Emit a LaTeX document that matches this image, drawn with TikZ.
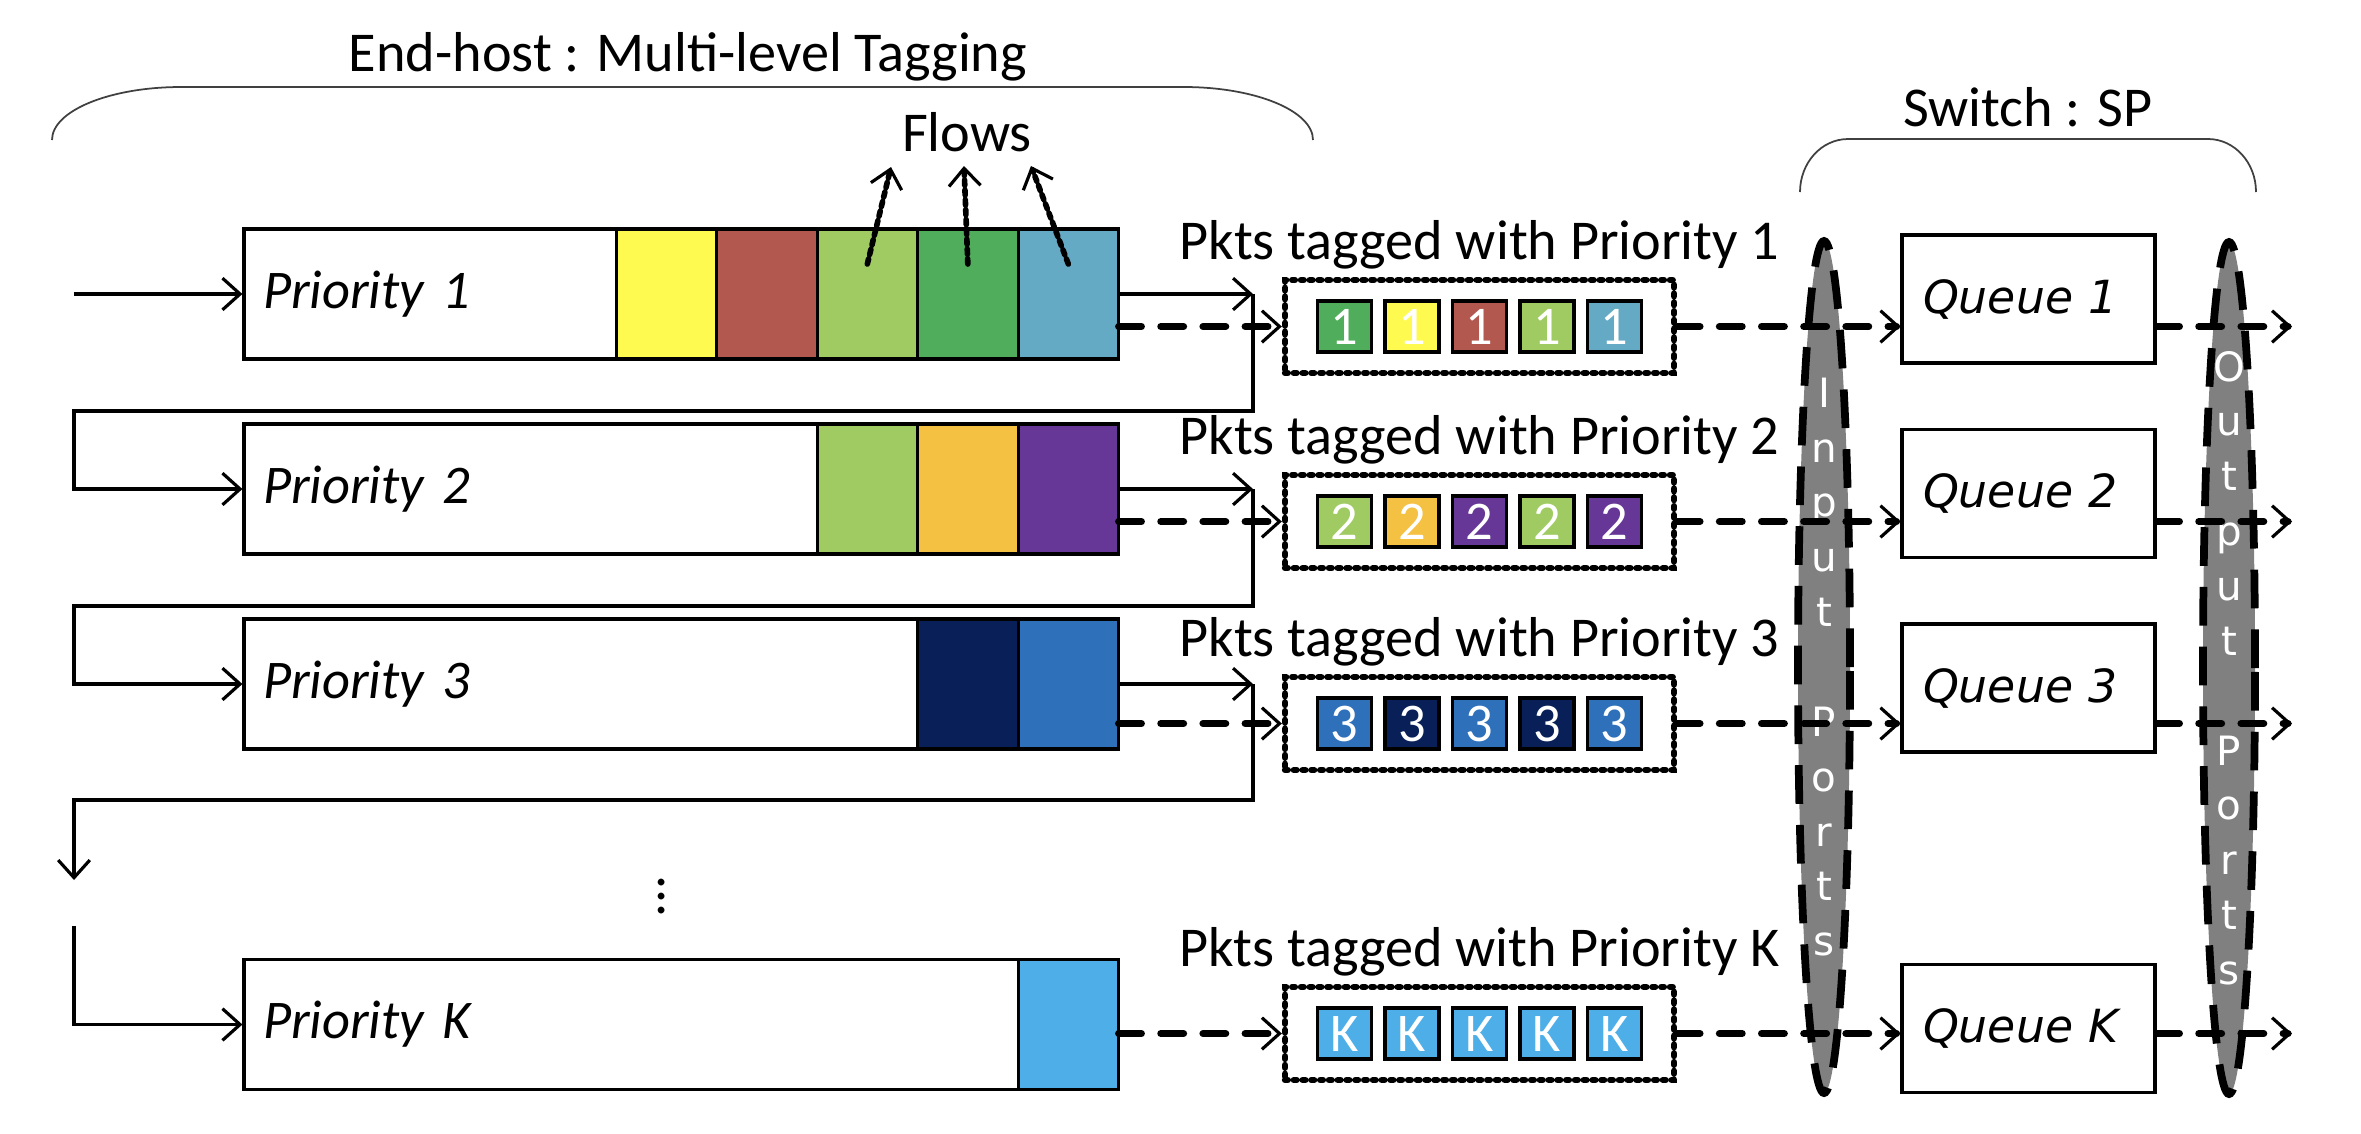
\documentclass[tikz,border=0pt]{standalone}
\usepackage{fontspec}
\setmainfont{Carlito}
\newfontfamily\vfont{DejaVu Sans}
\usepackage{tikz}
\usetikzlibrary{arrows.meta, positioning, shapes.geometric}
\definecolor{flowyellow}{RGB}{255, 250, 80}
\definecolor{flowred}{RGB}{178, 88, 78}
\definecolor{flowlime}{RGB}{160, 203, 98}
\definecolor{flowgreen}{RGB}{80, 173, 91}
\definecolor{flowteal}{RGB}{100, 170, 196}
\definecolor{floworange}{RGB}{245, 193, 66}
\definecolor{flowpurple}{RGB}{102, 55, 150}
\definecolor{flownavy}{RGB}{8, 31, 88}
\definecolor{flowblue}{RGB}{46, 112, 185}
\definecolor{flowsky}{RGB}{78, 174, 232}
\definecolor{portgray}{RGB}{128, 128, 128}

\begin{document}
\begin{tikzpicture}[
    font=\fontsize{16}{19}\selectfont,
    >={Straight Barb[length=5pt, width=9pt, line width=0.9pt]},
    prio/.style={draw, line width=0.9pt, minimum width=8.73cm, minimum height=1.3cm, text width=8.35cm, inner sep=0.19cm, align=left, font=\fontsize{15.5}{18}\selectfont\itshape},
    cell/.style={draw, line width=0.9pt, minimum width=1.005cm, minimum height=1.3cm, inner sep=0, outer sep=0},
    pkt/.style={draw, line width=0.9pt, minimum width=0.54cm, minimum height=0.51cm, inner sep=0, outer sep=0, text=white, font=\fontsize{15.5}{18}\selectfont},
    bag/.style={draw, line width=1.8pt, dash pattern=on 0.8pt off 1.7pt, line cap=round, minimum width=3.89cm, minimum height=0.93cm},
    queue/.style={draw, line width=0.9pt, minimum width=2.53cm, minimum height=1.28cm, text width=2.11cm, inner sep=0.21cm, align=left, font=\vfont\itshape\fontsize{13}{16}\selectfont},
    port/.style={ellipse, draw, fill=portgray, line width=2.2pt, dash pattern=on 11pt off 6pt, minimum width=0.52cm, minimum height=8.52cm, inner sep=0},
    portlbl/.style={text=white, align=center, font=\vfont\fontsize{11.5}{15.6}\selectfont},
    flow/.style={->, line width=0.9pt},
    tag/.style={->, line width=2pt, line cap=round, dash pattern=on 6.5pt off 5.5pt},
    flowptr/.style={->, line width=1.6pt, line cap=round, dash pattern=on 1.5pt off 1.3pt},
    brace/.style={line width=0.5pt, black!75}
]
    \useasboundingbox (0,0) rectangle (23.61,-11.33);

    % titles
    \node[anchor=base] (host) at (6.88,-0.71) {End-host : Multi-level Tagging};
    \node[anchor=base] (switch) at (20.28,-1.26) {Switch : SP};
    \node[anchor=base] (flows) at (9.67,-1.51) {Flows};
    \draw[brace] (0.52,-1.40) arc[start angle=180, end angle=90, x radius=1.29cm, y radius=0.53cm]
        -- (11.84,-0.87) arc[start angle=90, end angle=0, x radius=1.29cm, y radius=0.53cm];
    \draw[brace] (18.00,-1.92) arc[start angle=180, end angle=90, x radius=0.48cm, y radius=0.53cm]
        -- (22.08,-1.39) arc[start angle=90, end angle=0, x radius=0.48cm, y radius=0.53cm];

    % Priority 1
    \node[prio] (p1) at (6.805,-2.94) {Priority 1};
    \node[cell, fill=flowteal, anchor=east] (c15) at (p1.east) {};
    \node[cell, fill=flowgreen, left=0pt of c15] (c14) {};
    \node[cell, fill=flowlime, left=0pt of c14] (c13) {};
    \node[cell, fill=flowred, left=0pt of c13] (c12) {};
    \node[cell, fill=flowyellow, left=0pt of c12] (c11) {};

    % Priority 2
    \node[prio] (p2) at (6.805,-4.89) {Priority 2};
    \node[cell, fill=flowpurple, anchor=east] (c23) at (p2.east) {};
    \node[cell, fill=floworange, left=0pt of c23] (c22) {};
    \node[cell, fill=flowlime, left=0pt of c22] (c21) {};

    % Priority 3
    \node[prio] (p3) at (6.805,-6.84) {Priority 3};
    \node[cell, fill=flowblue, anchor=east] (c32) at (p3.east) {};
    \node[cell, fill=flownavy, left=0pt of c32] (c31) {};

    % Priority K
    \node (dots) at (6.62,-8.86) {$\vdots$};
    \node[prio] (pk) at (6.805,-10.245) {Priority K};
    \node[cell, fill=flowsky, anchor=east] (ck1) at (pk.east) {};

    % flows
    \coordinate (f1) at (8.91,-1.67);
    \coordinate (f2) at (9.64,-1.66);
    \coordinate (f3) at (10.31,-1.66);
    \draw[flowptr] ([yshift=0.3cm]c13.center) -- (f1);
    \draw[flowptr] ([yshift=0.3cm]c14.center) -- (f2);
    \draw[flowptr] ([yshift=0.3cm]c15.center) -- (f3);

    % solid path through the levels
    \coordinate (start) at (0.74,-2.94);
    \coordinate (t1) at (12.53,-2.94);
    \coordinate (t2) at (12.53,-4.89);
    \coordinate (t3) at (12.53,-6.84);
    \coordinate (u1) at (0.74,-4.11);
    \coordinate (u2) at (0.74,-6.06);
    \coordinate (u3) at (0.74,-8.00);
    \coordinate (v3) at (0.74,-8.80);
    \coordinate (w3) at (0.74,-9.26);
    \draw[flow] (start) -- (p1.west);
    \draw[flow] (p1.east) -- (t1);
    \draw[flow] (t1) |- (u1) |- (p2.west);
    \draw[flow] (p2.east) -- (t2);
    \draw[flow] (t2) |- (u2) |- (p3.west);
    \draw[flow] (p3.east) -- (t3);
    \draw[flow] (t3) |- (u3) -- (v3);
    \draw[flow] (w3) |- (pk.west);

    % tagged packets
    \node[bag] (b1) at (14.795,-3.265) {};
    \node[anchor=base] (l1) at ([yshift=0.17cm]b1.north) {Pkts tagged with Priority 1};
    \node[pkt, fill=flowgreen] (k11) at ([xshift=-1.35cm]b1) {1};
    \node[pkt, fill=flowyellow, right=0.135cm of k11] (k12) {1};
    \node[pkt, fill=flowred, right=0.135cm of k12] (k13) {1};
    \node[pkt, fill=flowlime, right=0.135cm of k13] (k14) {1};
    \node[pkt, fill=flowteal, right=0.135cm of k14] (k15) {1};

    \node[bag] (b2) at (14.795,-5.215) {};
    \node[anchor=base] (l2) at ([yshift=0.17cm]b2.north) {Pkts tagged with Priority 2};
    \node[pkt, fill=flowlime] (k21) at ([xshift=-1.35cm]b2) {2};
    \node[pkt, fill=floworange, right=0.135cm of k21] (k22) {2};
    \node[pkt, fill=flowpurple, right=0.135cm of k22] (k23) {2};
    \node[pkt, fill=flowlime, right=0.135cm of k23] (k24) {2};
    \node[pkt, fill=flowpurple, right=0.135cm of k24] (k25) {2};

    \node[bag] (b3) at (14.795,-7.235) {};
    \node[anchor=base] (l3) at ([yshift=0.17cm]b3.north) {Pkts tagged with Priority 3};
    \node[pkt, fill=flowblue] (k31) at ([xshift=-1.35cm]b3) {3};
    \node[pkt, fill=flownavy, right=0.135cm of k31] (k32) {3};
    \node[pkt, fill=flowblue, right=0.135cm of k32] (k33) {3};
    \node[pkt, fill=flownavy, right=0.135cm of k33] (k34) {3};
    \node[pkt, fill=flowblue, right=0.135cm of k34] (k35) {3};

    \node[bag] (bk) at (14.795,-10.335) {};
    \node[anchor=base] (lk) at ([yshift=0.17cm]bk.north) {Pkts tagged with Priority K};
    \node[pkt, fill=flowsky] (kk1) at ([xshift=-1.35cm]bk) {K};
    \node[pkt, fill=flowsky, right=0.135cm of kk1] (kk2) {K};
    \node[pkt, fill=flowsky, right=0.135cm of kk2] (kk3) {K};
    \node[pkt, fill=flowsky, right=0.135cm of kk3] (kk4) {K};
    \node[pkt, fill=flowsky, right=0.135cm of kk4] (kk5) {K};

    % switch
    \node[port] (inp) at (18.24,-6.67) {};
    \node[portlbl] (inlbl) at (inp) {I\\n\\p\\u\\t\\[0.55cm]P\\o\\r\\t\\s};
    \node[port] (outp) at (22.29,-6.68) {};
    \node[portlbl] (outlbl) at (outp) {O\\u\\t\\p\\u\\t\\[0.55cm]P\\o\\r\\t\\s};
    \node[queue] (q1) at (20.285,-2.99) {Queue 1};
    \node[queue] (q2) at (20.285,-4.935) {Queue 2};
    \node[queue] (q3) at (20.285,-6.88) {Queue 3};
    \node[queue] (qk) at (20.285,-10.285) {Queue K};
    \coordinate (out) at (22.92,0);

    % dashed packet paths
    \draw[tag] (b1.west -| p1.east) -- (b1.west);
    \draw[tag] (b2.west -| p2.east) -- (b2.west);
    \draw[tag] (b3.west -| p3.east) -- (b3.west);
    \draw[tag] (bk.west -| pk.east) -- (bk.west);
    \draw[tag] (b1.east) -- (b1.east -| q1.west);
    \draw[tag] (b2.east) -- (b2.east -| q2.west);
    \draw[tag] (b3.east) -- (b3.east -| q3.west);
    \draw[tag] (bk.east) -- (bk.east -| qk.west);
    \draw[tag] (b1.east -| q1.east) -- (b1.east -| out);
    \draw[tag] (b2.east -| q2.east) -- (b2.east -| out);
    \draw[tag] (b3.east -| q3.east) -- (b3.east -| out);
    \draw[tag] (bk.east -| qk.east) -- (bk.east -| out);
\end{tikzpicture}
\end{document}
